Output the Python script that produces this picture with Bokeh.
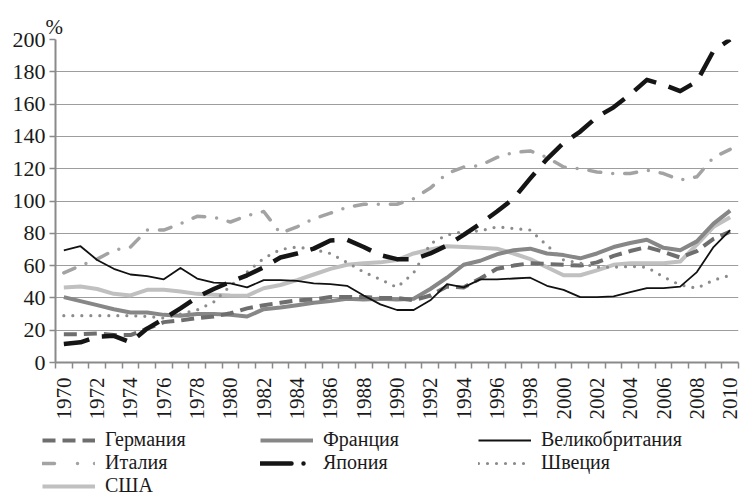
import math
from bokeh.plotting import figure
from bokeh.layouts import column
from bokeh.models import FixedTicker, Legend, LegendItem, Range1d
from bokeh.embed import file_html
from bokeh.resources import INLINE

years = list(range(1970, 2011))

germany = [17.5, 17.5, 18, 17, 17, 21, 25, 26, 27.5, 28.5,
           30.5, 33.5, 35.5, 37, 38.5, 39, 40.5, 40.5, 40.5, 40,
           40, 38.5, 41.5, 47, 46.5, 52, 58, 60, 61.5, 61,
           60.5, 60, 62, 66, 69, 71.5, 68.5, 65, 69, 76.5, 81]
france = [40.5, 38, 35.5, 33, 31, 31, 29.5, 29, 30, 30,
          29.5, 28.5, 33, 34, 35.5, 37, 38, 39.5, 39, 39.5,
          39, 39.5, 45.5, 52.5, 60.5, 63, 67, 69.5, 70.5, 67.5,
          66.5, 64.5, 67.5, 71.5, 74, 76, 71, 69.5, 75, 86, 94]
uk = [69.5, 72, 63.5, 58, 54.5, 53.5, 51.5, 58.5, 52, 49.5,
      49, 46.5, 51, 51, 50.5, 49, 48.5, 47.5, 41.5, 36,
      32.5, 32.5, 38.5, 48.5, 46.5, 51.5, 51.5, 52, 52.5, 47.5,
      45, 40.5, 40.5, 41, 43.5, 46, 46, 47, 56, 71.5, 82]
italy = [55.5, 60, 64, 69.5, 71.5, 82, 82, 86, 90.5, 90,
         87, 91, 93.5, 80, 84, 89, 92.5, 96, 98, 98,
         98, 101.5, 108, 117, 121, 122, 127, 130, 131, 127,
         121, 120, 118, 117, 117, 119, 117, 113, 115, 127, 132]
japan = [11.5, 12.5, 16, 16.5, 12.5, 21, 27, 33.5, 40.5, 45.5,
         50, 54, 59, 65, 67.5, 70.5, 75.5, 76, 71.5, 66.5,
         64, 64, 67.5, 72.5, 79, 86, 93.5, 101.5, 114, 126,
         136, 143, 152, 158, 166, 175, 172, 168, 174, 193, 200]
sweden = [29, 29, 29, 29, 29, 28.5, 27.5, 30, 32.5, 37.5,
          47.5, 56, 64.5, 70, 71.5, 70, 67.5, 62, 56, 51.5,
          46.5, 55.5, 73.5, 79, 81, 81.5, 84, 83, 82, 72.5,
          63.5, 61.5, 59, 59, 59.5, 59, 53, 48, 46, 51, 54]
usa = [46.5, 47, 45.5, 42.5, 41.5, 45, 45, 44, 42.5, 42,
       41.5, 41.3, 46, 48, 51, 54.5, 58, 60.5, 61.5, 62,
       63.5, 67.5, 70, 72, 71.5, 71, 70.5, 67.5, 64, 59,
       54, 54, 57, 60.5, 61.5, 61.5, 61.5, 62.5, 73, 84, 90]

names = ["Германия", "Франция", "Великобритания", "Италия", "Япония", "Швеция", "США"]
y_ticks = list(range(0, 201, 20))
x_label_years = list(range(1970, 2011, 2))

FONT = "Liberation Serif"
TXT = "#1a1a1a"
AX = "#8a8a8a"

p = figure(width=740, height=430, output_backend="svg", toolbar_location=None,
           x_range=Range1d(1969.5, 2010.5), y_range=Range1d(0, 200),
           min_border_left=55, min_border_right=2, min_border_top=39, min_border_bottom=68)
p.outline_line_color = None
p.background_fill_color = "white"
p.border_fill_color = "white"

p.title.text = "%"
p.title.text_font = FONT
p.title.text_font_size = "21px"
p.title.text_font_style = "normal"
p.title.text_color = TXT
p.title.align = "left"
p.title.offset = -10
p.title.standoff = 2

p.xgrid.visible = False
p.ygrid.grid_line_color = "#9d9d9d"
p.ygrid.grid_line_width = 1.2

p.yaxis.ticker = FixedTicker(ticks=y_ticks)
p.yaxis.axis_line_color = AX
p.yaxis.axis_line_width = 2
p.yaxis.major_tick_line_color = AX
p.yaxis.major_tick_line_width = 1.5
p.yaxis.major_tick_out = 6
p.yaxis.major_tick_in = 0
p.yaxis.minor_tick_line_color = None
p.yaxis.major_label_text_font = FONT
p.yaxis.major_label_text_font_size = "22px"
p.yaxis.major_label_text_color = TXT
p.yaxis.major_label_standoff = 4

p.xaxis.ticker = FixedTicker(ticks=x_label_years,
                             minor_ticks=[y - 0.5 for y in range(1970, 2012)])
p.xaxis.axis_line_color = AX
p.xaxis.axis_line_width = 2
p.xaxis.major_tick_out = 0
p.xaxis.major_tick_in = 0
p.xaxis.minor_tick_line_color = AX
p.xaxis.minor_tick_line_width = 1.5
p.xaxis.minor_tick_out = 6
p.xaxis.minor_tick_in = 0
p.xaxis.major_label_orientation = math.pi / 2
p.xaxis.major_label_text_font = FONT
p.xaxis.major_label_text_font_size = "21px"
p.xaxis.major_label_text_color = TXT
p.xaxis.major_label_standoff = 9

styles = [
    dict(y=germany, color="#6e6e6e", width=4, dash="13 7", cap="butt"),
    dict(y=france, color="#878787", width=4, dash="solid", cap="butt"),
    dict(y=uk, color="#111111", width=1.8, dash="solid", cap="butt"),
    dict(y=italy, color="#a3a3a3", width=3.5, dash="12 12 0 12", cap="round"),
    dict(y=japan, color="#151515", width=4.5, dash="26 13", cap="butt"),
    dict(y=sweden, color="#8c8c8c", width=3.2, dash="0 9", cap="round"),
    dict(y=usa, color="#c0c0c0", width=4, dash="solid", cap="butt"),
]
draw_order = [6, 1, 0, 5, 3, 2, 4]
for i in draw_order:
    s = styles[i]
    p.line(years, s["y"], line_color=s["color"], line_width=s["width"],
           line_dash=s["dash"], line_cap=s["cap"], line_join="round")

# legend panel: a second figure below the chart
q = figure(width=740, height=74, output_backend="svg", toolbar_location=None,
           x_range=Range1d(0, 1), y_range=Range1d(0, 1),
           x_axis_location=None, y_axis_location=None,
           min_border_left=0, min_border_right=0, min_border_top=0, min_border_bottom=0)
q.outline_line_color = None
q.xgrid.visible = False
q.ygrid.visible = False

aligned_off = False
if "frame_align" in q.properties():
    try:
        q.frame_align = False
        p.frame_align = False
        aligned_off = True
    except Exception:
        aligned_off = False

legend_dash = ["13 7", "solid", "solid", "12 23 0 17 0 20", "31 12 0 30", "0 9", "solid"]
legend_cap = ["butt", "butt", "butt", "round", "round", "round", "butt"]
items = []
for n, s, d, c in zip(names, styles, legend_dash, legend_cap):
    r = q.line([5, 6], [5, 6], line_color=s["color"], line_width=s["width"],
               line_dash=d, line_cap=c)
    items.append(LegendItem(label=n, renderers=[r]))

legend = Legend(items=items, orientation="horizontal", ncols=3,
                location=(42 if aligned_off else 0, 7))
legend.label_text_font = FONT
legend.label_text_font_size = "20px"
legend.label_text_color = TXT
legend.glyph_width = 53
legend.glyph_height = 20
legend.label_standoff = 10
legend.label_width = 155 if aligned_off else 148
legend.label_height = 20
legend.spacing = 0
legend.padding = 0
legend.margin = 0
legend.border_line_color = None
legend.background_fill_alpha = 0
q.add_layout(legend, "center")

open("out.html", "w").write(file_html(column(p, q, spacing=0), INLINE))
